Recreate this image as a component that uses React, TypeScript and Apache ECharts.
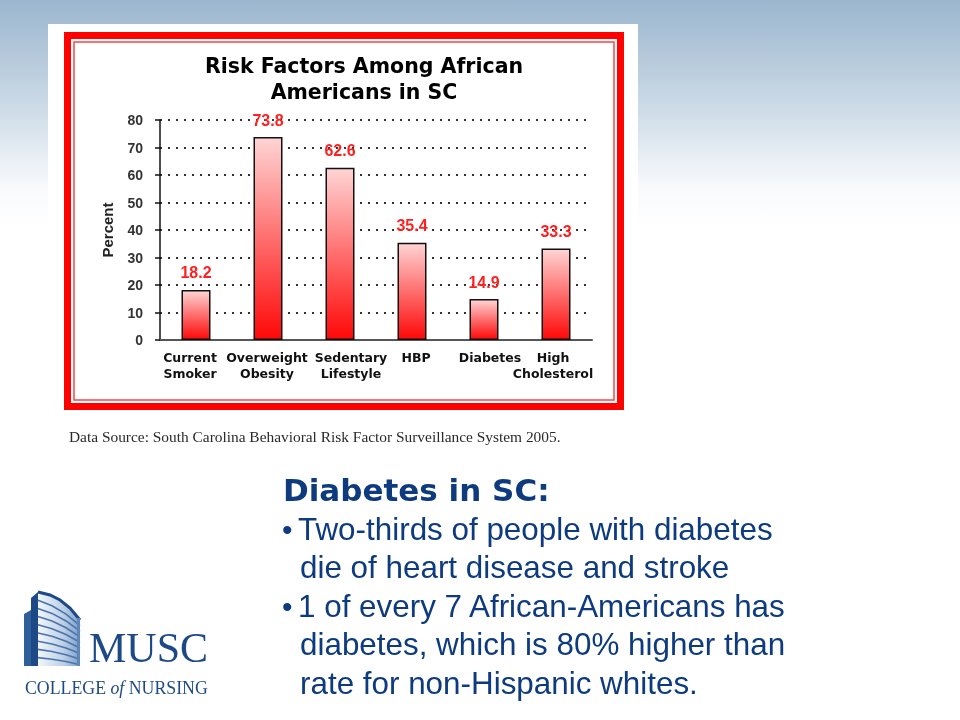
import React, { useEffect, useRef } from "react";
import * as echarts from "echarts";

const categories = [
  "Current\nSmoker",
  "Overweight\nObesity",
  "Sedentary\nLifestyle",
  "HBP",
  "Diabetes",
  "High\nCholesterol",
];
const percentValues = [18.2, 73.8, 62.6, 35.4, 14.9, 33.3];
const yMin = 0;
const yMax = 80;
const yInterval = 10;

const chartTitle = "Risk Factors Among African\nAmericans in SC";
const axisName = "Percent";
const sourceNote =
  "Data Source: South Carolina Behavioral Risk Factor Surveillance System 2005.";
const heading = "Diabetes in SC:";
const bulletLines = [
  { bullet: true, text: "Two-thirds of people with diabetes" },
  { bullet: false, text: "die of heart disease and stroke" },
  { bullet: true, text: "1 of every 7 African-Americans has" },
  { bullet: false, text: "diabetes, which is 80% higher than" },
  { bullet: false, text: "rate for non-Hispanic whites." },
];

// horizontal nudge (px) of each category label relative to its bar, styling only
const labelNudge = [-6, -1, 11, 4, 6, -3];

const NAVY = "#0d3b7e";
const LOGO = "#1d4a86";

export default function App() {
  const ref = useRef<HTMLDivElement>(null);

  useEffect(() => {
    if (!ref.current) return;
    const chart = echarts.init(ref.current, undefined, { renderer: "svg" });

    const graphics: any[] = [];
    graphics.push({
      type: "rect",
      z: -20,
      shape: { x: 0, y: 0, width: 960, height: 720 },
      style: {
        fill: new echarts.graphic.LinearGradient(0, 0, 0, 1, [
          { offset: 0, color: "#9bb6ce" },
          { offset: 0.14, color: "#c9d8e5" },
          { offset: 0.26, color: "#f8fafc" },
          { offset: 0.32, color: "#ffffff" },
          { offset: 1, color: "#ffffff" },
        ]),
      },
      silent: true,
    });
    graphics.push({
      type: "rect",
      z: -19,
      shape: { x: 48, y: 24, width: 590, height: 426 },
      style: { fill: "#ffffff" },
      silent: true,
    });
    graphics.push({
      type: "rect",
      z: -18,
      shape: { x: 67.5, y: 35.5, width: 553, height: 371 },
      style: { fill: "none", stroke: "#ff0000", lineWidth: 7 },
      silent: true,
    });
    graphics.push({
      type: "rect",
      z: -18,
      shape: { x: 74, y: 42, width: 540, height: 358 },
      style: { fill: "none", stroke: "#f04a4a", lineWidth: 1.5 },
      silent: true,
    });
    graphics.push({
      type: "text",
      z: 10,
      x: 364,
      y: 79,
      style: {
        text: chartTitle,
        fill: "#000",
        font: "bold 20.5px 'DejaVu Sans'",
        align: "center",
        verticalAlign: "middle",
        lineHeight: 26,
      },
    });
    graphics.push({
      type: "text",
      z: 10,
      x: 69,
      y: 436,
      style: {
        text: sourceNote,
        fill: "#2a2a2a",
        font: "15.4px 'Liberation Serif'",
        align: "left",
        verticalAlign: "middle",
      },
    });
    graphics.push({
      type: "text",
      z: 10,
      x: 283,
      y: 490,
      style: {
        text: heading,
        fill: NAVY,
        font: "bold 31px 'DejaVu Sans'",
        align: "left",
        verticalAlign: "middle",
      },
    });
    const lineYs = [529, 567, 606, 644, 683];
    bulletLines.forEach((ln, i) => {
      if (ln.bullet) {
        graphics.push({
          type: "text",
          z: 10,
          x: 282,
          y: lineYs[i],
          style: {
            text: "\u2022",
            fill: NAVY,
            font: "30px 'Liberation Sans'",
            align: "left",
            verticalAlign: "middle",
          },
        });
      }
      graphics.push({
        type: "text",
        z: 10,
        x: ln.bullet ? 298 : 300,
        y: lineYs[i],
        style: {
          text: ln.text,
          fill: NAVY,
          font: "31.4px 'Liberation Sans'",
          align: "left",
          verticalAlign: "middle",
        },
      });
    });

    // logo building
    graphics.push({
      type: "polygon",
      z: 5,
      shape: { points: [[24, 614], [31, 610], [31, 666], [24, 666]] },
      style: { fill: "#2f5f98" },
    });
    graphics.push({
      type: "polygon",
      z: 5,
      shape: { points: [[31, 598], [38, 592], [38, 666], [31, 666]] },
      style: { fill: LOGO },
    });
    const roof = [[38, 592], [50, 595], [60, 600], [70, 608], [80, 620]];
    graphics.push({
      type: "polygon",
      z: 5,
      shape: { points: [...roof, [80, 666], [38, 666]] },
      style: {
        fill: new echarts.graphic.LinearGradient(0, 0, 1, 0, [
          { offset: 0, color: "#f2f6fb" },
          { offset: 0.6, color: "#bdd0e6" },
          { offset: 1, color: "#7c9ecb" },
        ]),
      },
    });
    graphics.push({
      type: "polyline",
      z: 6,
      shape: { points: roof },
      style: { stroke: LOGO, lineWidth: 3, fill: "none" },
    });
    for (let i = 1; i <= 8; i++) {
      const yl = 592 + i * 8.2;
      const yr = 620 + i * 5.6;
      graphics.push({
        type: "polyline",
        z: 6,
        shape: {
          points: [
            [38, yl],
            [52, yl + (yr - yl) * 0.22],
            [66, yl + (yr - yl) * 0.55],
            [80, yr],
          ],
        },
        style: { stroke: "#4a74aa", lineWidth: 1.6, fill: "none" },
      });
    }
    graphics.push({
      type: "rect",
      z: 6,
      shape: { x: 77, y: 618, width: 3, height: 48 },
      style: { fill: "#5f86b9" },
    });
    graphics.push({
      type: "text",
      z: 10,
      x: 89,
      y: 669,
      style: {
        text: "MUSC",
        fill: LOGO,
        font: "42px 'Liberation Serif'",
        align: "left",
        verticalAlign: "bottom",
      },
    });
    graphics.push({
      type: "text",
      z: 10,
      x: 25,
      y: 697,
      style: {
        text: "{a|COLLEGE }{b|of}{a| NURSING}",
        align: "left",
        verticalAlign: "bottom",
        rich: {
          a: { font: "17.8px 'Liberation Serif'", fill: LOGO },
          b: { font: "italic 17.8px 'Liberation Serif'", fill: LOGO },
        },
      },
    });

    const labelBase = {
      fontFamily: "DejaVu Sans",
      fontWeight: "bold",
      fontSize: 12.5,
      lineHeight: 16,
      color: "#111",
    };
    const rich: any = {};
    labelNudge.forEach((d, i) => {
      rich["c" + i] = {
        ...labelBase,
        padding: d >= 0 ? [0, 0, 0, 2 * d] : [0, -2 * d, 0, 0],
      };
    });

    const option: any = {
      animation: false,
      graphic: { elements: graphics },
      grid: { left: 160, top: 120, width: 432, height: 220, containLabel: false },
      xAxis: {
        type: "category",
        data: categories,
        axisLine: { show: true, lineStyle: { color: "#555", width: 2 } },
        axisTick: { show: false },
        axisLabel: {
          interval: 0,
          margin: 9,
          ...labelBase,
          formatter: (value: string, index: number) =>
            value
              .split("\n")
              .map((part) => `{c${index}|${part}}`)
              .join("\n"),
          rich,
        },
        splitLine: { show: false },
      },
      yAxis: {
        type: "value",
        min: yMin,
        max: yMax,
        interval: yInterval,
        name: axisName,
        nameLocation: "middle",
        nameGap: 45,
        nameTextStyle: {
          color: "#222",
          fontFamily: "Liberation Sans",
          fontWeight: "bold",
          fontSize: 15,
        },
        axisLine: { show: true, lineStyle: { color: "#111", width: 1.5 } },
        axisTick: { show: true, length: 5, lineStyle: { color: "#111", width: 1.5 } },
        axisLabel: {
          margin: 17,
          color: "#333",
          fontFamily: "Liberation Sans",
          fontWeight: "bold",
          fontSize: 14,
        },
        splitLine: {
          show: true,
          lineStyle: { color: "#333", width: 1.8, type: [2, 6] },
        },
      },
      series: [
        {
          type: "bar",
          data: percentValues,
          barWidth: 29,
          itemStyle: {
            color: new echarts.graphic.LinearGradient(0, 0, 0, 1, [
              { offset: 0, color: "#ffd4d4" },
              { offset: 1, color: "#ff0808" },
            ]),
            borderColor: "#111",
            borderWidth: 1.5,
          },
          label: {
            show: true,
            position: "top",
            distance: 9,
            color: "#ff1f1f",
            fontFamily: "Liberation Sans",
            fontWeight: "bold",
            fontSize: 16,
          },
        },
      ],
    };
    chart.setOption(option);
    return () => chart.dispose();
  }, []);

  return (
    <div
      ref={ref}
      style={{ position: "fixed", left: 0, top: 0, width: 960, height: 720 }}
    />
  );
}
